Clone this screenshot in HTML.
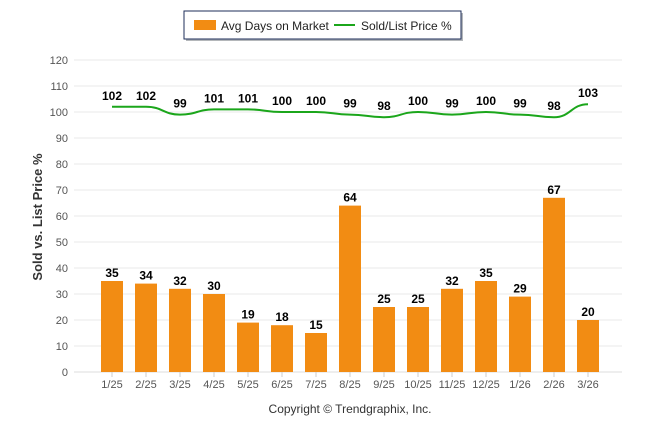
<!DOCTYPE html>
<html><head><meta charset="utf-8"><style>
body{margin:0;background:#fff;}
svg{display:block;font-family:"Liberation Sans",sans-serif;}
</style></head><body>
<svg id="chart" width="646" height="434">
<g>
 <rect x="186" y="13" width="277" height="28" fill="#6a6f76" opacity="0.5"/>
 <rect x="184" y="11" width="277" height="28" fill="#fff" stroke="#1c2e5a" stroke-width="1"/>
 <rect x="194" y="20" width="22" height="10" fill="#f28c13"/>
 <text x="221" y="30" font-size="12" fill="#222">Avg Days on Market</text>
 <line x1="334" y1="25" x2="355" y2="25" stroke="#1ba61b" stroke-width="2"/>
 <text x="361" y="30" font-size="12" fill="#222">Sold/List Price %</text>
</g>
<g id="grid"></g>
<g id="bars"></g>
<g id="line"></g>
<text transform="translate(42,217) rotate(-90)" text-anchor="middle" font-size="13" font-weight="bold" fill="#333">Sold vs. List Price %</text>
<text x="350" y="413" text-anchor="middle" font-size="12" fill="#333">Copyright © Trendgraphix, Inc.</text>
</svg>
<script>
const categories=["1/25","2/25","3/25","4/25","5/25","6/25","7/25","8/25","9/25","10/25","11/25","12/25","1/26","2/26","3/26"];
const daysOnMarket=[35,34,32,30,19,18,15,64,25,25,32,35,29,67,20];
const soldListPct=[102,102,99,101,101,100,100,99,98,100,99,100,99,98,103];
const yTicks=[0,10,20,30,40,50,60,70,80,90,100,110,120];
const NS="http://www.w3.org/2000/svg";
const y=v=>372-v*2.6;
const x=i=>112+i*34;
function mk(tag,attrs,parent,text){const e=document.createElementNS(NS,tag);for(const k in attrs)e.setAttribute(k,attrs[k]);if(text!==undefined)e.textContent=text;parent.appendChild(e);return e;}
const grid=document.getElementById('grid');
yTicks.forEach(t=>{
 const l=mk('line',{x1:74,x2:622,y1:y(t),y2:y(t),stroke:t===0?'#ddd':'#e8e8e8','stroke-width':1},grid);
 
 
 const tx=mk('text',{x:68,y:y(t)+4,'text-anchor':'end','font-size':11,fill:'#555'},grid,t);
 
 
});
categories.forEach((c,i)=>{
 const tk=mk('line',{x1:x(i),x2:x(i),y1:372,y2:377,stroke:'#ccc'},grid);
 
 
 const t=mk('text',{x:x(i),y:388,'text-anchor':'middle','font-size':11,fill:'#555'},grid,c);
 
 
});
const bars=document.getElementById('bars');
daysOnMarket.forEach((v,i)=>{
 const b=mk('rect',{x:x(i)-11,y:y(v),width:22,height:372-y(v),fill:'#f28c13'},bars);
 
 
 const t=mk('text',{x:x(i),y:y(v)-4,'text-anchor':'middle','font-size':12,'font-weight':'bold',fill:'#000'},bars,v);
 
 
});
const lg=document.getElementById('line');
let d='';
soldListPct.forEach((v,i)=>{
 if(i===0){d+='M'+x(i)+','+y(v);}
 else{const px=x(i-1),py=y(soldListPct[i-1]),cx=x(i),cy=y(v),dx=(cx-px)/2;d+=' C'+(px+dx)+','+py+' '+(cx-dx)+','+cy+' '+cx+','+cy;}
});
const p=mk('path',{d:d,fill:'none',stroke:'#1ba61b','stroke-width':2},lg);


soldListPct.forEach((v,i)=>{
 const t=mk('text',{x:x(i),y:y(v)-7,'text-anchor':'middle','font-size':12,'font-weight':'bold',fill:'#000'},lg,v);
 
 
});
</script>
</body></html>
